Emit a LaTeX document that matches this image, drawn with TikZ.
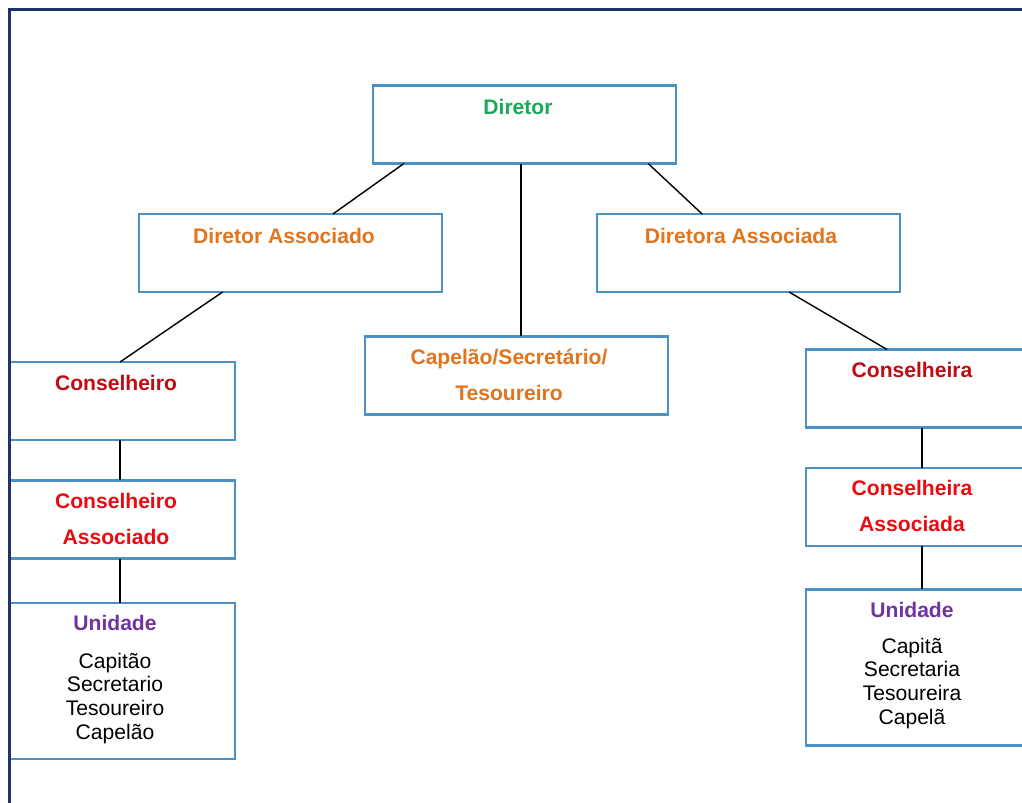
\documentclass[tikz,border=0pt]{standalone}
\usepackage{fontspec}
\setmainfont{Liberation Sans}
\usetikzlibrary{calc}
\definecolor{boxblue}{RGB}{74,146,198}
\definecolor{framenavy}{RGB}{28,52,104}
\definecolor{dirgreen}{RGB}{24,168,88}
\definecolor{assocorange}{RGB}{226,116,30}
\definecolor{consdark}{RGB}{192,10,20}
\definecolor{consred}{RGB}{232,12,18}
\definecolor{unidpurple}{RGB}{112,52,160}
\begin{document}
\begin{tikzpicture}[x=0.025cm,y=-0.025cm,
	box/.style={draw=boxblue,line width=1.5pt,rectangle,inner sep=0pt,outer sep=0pt},
	wide/.style={box,minimum width=7.575cm,minimum height=1.95cm},
	narrow/.style={box,minimum width=5.625cm,minimum height=1.95cm},
	tall/.style={box,minimum width=5.625cm,minimum height=3.9cm},
	role/.style={anchor=base,inner sep=0pt,align=center,font=\bfseries\fontsize{15}{25.6}\selectfont},
	names/.style={anchor=base,inner sep=0pt,align=center,font=\fontsize{15}{16.8}\selectfont},
	link/.style={black,line width=1pt}]
	\useasboundingbox (0,0) rectangle (1022,803);
	\clip (0,0) rectangle (1022,803);
	% boxes
	\node[wide] (dir) at (524.5,124.5){};
	\node[wide] (dass) at (290.5,253){};
	\node[wide] (dassa) at (748.5,253){};
	\node[wide] (cap) at (516.5,375.5){};
	\node[narrow] (cons) at (122.5,401){};
	\node[narrow] (consass) at (122.5,519.5){};
	\node[tall] (unidl) at (122.5,681){};
	\node[narrow] (consa) at (918.5,388.5){};
	\node[narrow] (consaass) at (918.5,507){};
	\node[tall] (unidr) at (918.5,667.5){};
	% texts (base = last line)
	\node[role,text=dirgreen] (tdir) at (518,114){Diretor};
	\node[role,text=assocorange] (tdass) at (284,243){Diretor Associado};
	\node[role,text=assocorange] (tdassa) at (741,243){Diretora Associada};
	\node[role,text=assocorange] (tcap) at (509,400){Capelão/Secretário/\\Tesoureiro};
	\node[role,text=consdark] (tcons) at (116,390){Conselheiro};
	\node[role,text=consred] (tconsass) at (116,544){Conselheiro\\Associado};
	\node[role,text=unidpurple] (tunidl) at (115,630){Unidade};
	\node[names] (nunidl) at (115,739){Capitão\\Secretario\\Tesoureiro\\Capelão};
	\node[role,text=consdark] (tconsa) at (912,377){Conselheira};
	\node[role,text=consred] (tconsaass) at (912,531){Conselheira\\Associada};
	\node[role,text=unidpurple] (tunidr) at (912,617){Unidade};
	\node[names] (nunidr) at (912,724){Capitã\\Secretaria\\Tesoureira\\Capelã};
	% links
	\draw[link] ($(dir.south west)!0.102!(dir.south east)$)--($(dass.north west)!0.64!(dass.north east)$);
	\draw[link] ($(dir.south west)!0.488!(dir.south east)$) coordinate (dc)--(dc |- cap.north);
	\draw[link] ($(dir.south west)!0.908!(dir.south east)$)--($(dassa.north west)!0.347!(dassa.north east)$);
	\draw[link] ($(dass.south west)!0.276!(dass.south east)$)--($(cons.north west)!0.489!(cons.north east)$);
	\draw[link] ($(dassa.south west)!0.634!(dassa.south east)$)--($(consa.north west)!0.36!(consa.north east)$);
	\foreach \a/\b in {cons/consass,consass/unidl}
	{\draw[link] ($(\a.south west)!0.489!(\a.south east)$)--($(\b.north west)!0.489!(\b.north east)$);}
	\foreach \a/\b in {consa/consaass,consaass/unidr}
	{\draw[link] ($(\a.south west)!0.516!(\a.south east)$)--($(\b.north west)!0.516!(\b.north east)$);}
	% frame
	\draw[framenavy,line width=2.2pt] (9.5,9.5) rectangle (1040,820);
\end{tikzpicture}
\end{document}
